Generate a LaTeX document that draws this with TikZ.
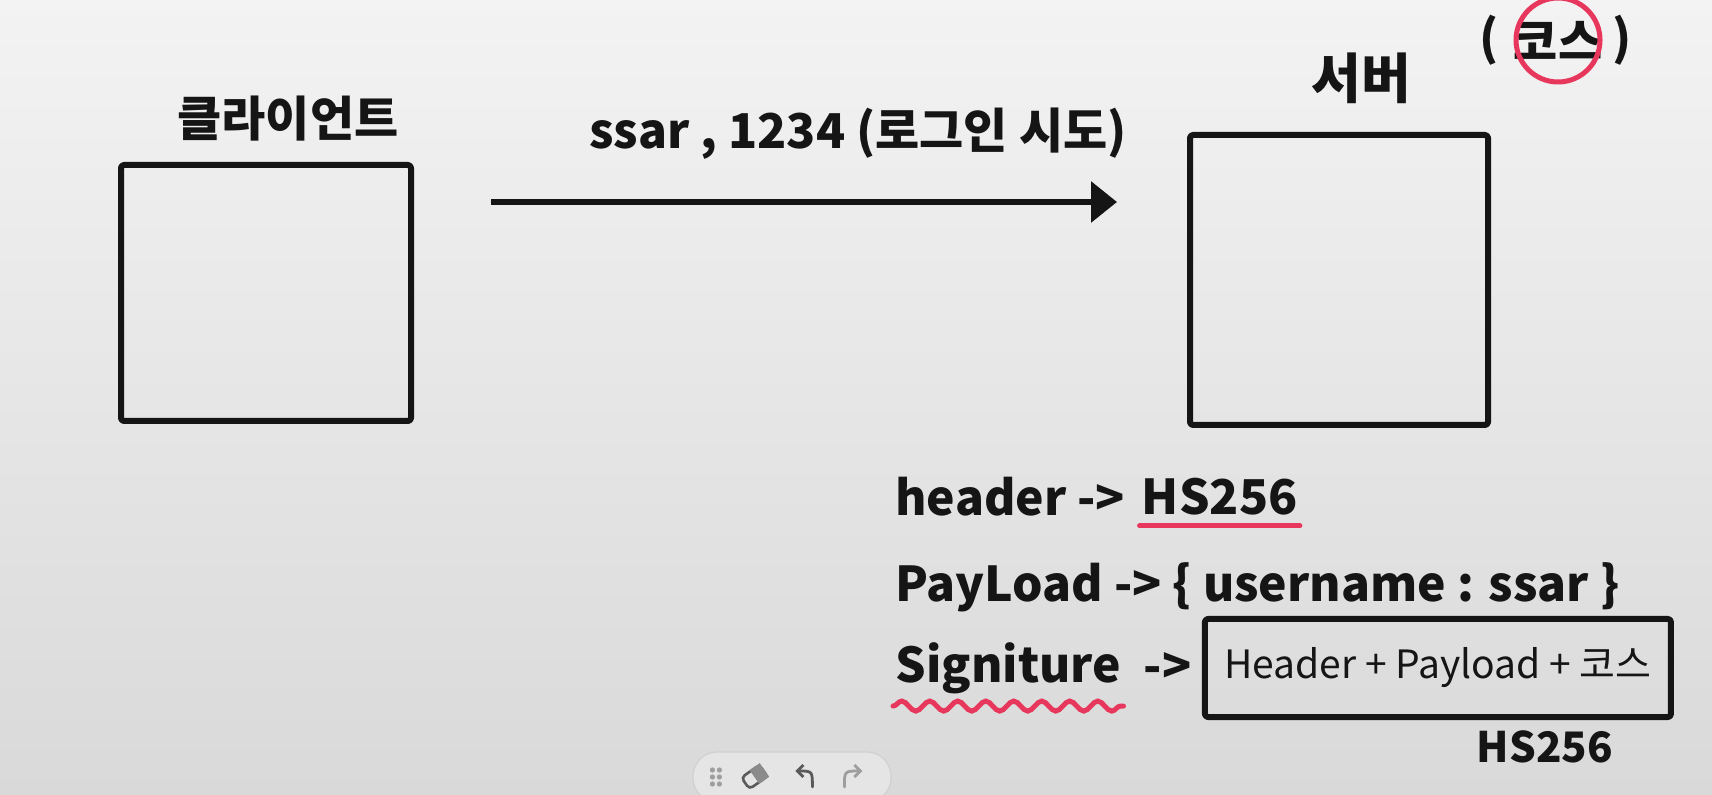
\documentclass[tikz,border=0pt]{standalone}
\usepackage{fontspec}
\usepackage{tikz}
\usetikzlibrary{arrows.meta,positioning,calc,decorations.pathmorphing}
\newfontfamily\krfont{Noto Sans CJK KR}
\definecolor{ink}     {HTML}{151515}
\definecolor{pen}     {HTML}{E8375C}
\definecolor{boardtop}{HTML}{F3F3F3}
\definecolor{boardbot}{HTML}{D9D9D9}
\definecolor{barbg}   {HTML}{E5E5E5}
\definecolor{barline} {HTML}{D0D0D0}
\definecolor{icon}    {HTML}{5A5A5A}
\definecolor{iconoff} {HTML}{9E9E9E}
\tikzset{
  box/.style    ={draw=ink, line width=3pt, line join=round, rounded corners=1.5pt,
                  minimum width=145pt, minimum height=128pt, inner sep=0pt},
  hand/.style   ={font=\krfont\bfseries\fontsize{24}{28}\selectfont, text=ink, inner sep=1pt},
  thin/.style   ={font=\krfont\fontsize{19.5}{23}\selectfont, text=ink},
  arr/.style    ={-{Triangle[length=13pt,width=20pt]}, line width=3pt, draw=ink},
  redpen/.style ={draw=pen, line width=2.5pt, line cap=round},
  tool/.style   ={line width=1.4pt, line cap=round, -{Straight Barb[length=3pt,width=6pt]}},
}
\begin{document}
\begin{tikzpicture}[x=0.5pt,y=-0.5pt]
  % whiteboard
  \shade[top color=boardtop, middle color=boardtop, bottom color=boardbot] (0,0) rectangle (1712,795);
  \useasboundingbox (0,0) rectangle (1712,795);

  % client and server
  \node[box] (client) at (266,293) {};
  \node[box, minimum width=149pt, minimum height=145pt] (server) at (1339,280) {};
  \node[hand, above=9pt of client, xshift=11pt] (clientlabel) {클라이언트};
  \node[hand, above=13pt of server, xshift=11pt, font=\krfont\bfseries\fontsize{27}{31}\selectfont]
    (serverlabel) {서버};

  \node[hand] (cos) at (1558,40) {코스};
  \node[hand, left=5pt of cos] (lp) {(};
  \node[hand, right=3pt of cos] (rp) {)};
  \draw[redpen] (cos) circle (21pt);

  % login request
  \node[hand] (login) at (858,134) {ssar , 1234 (로그인 시도)};
  \draw[arr] ([xshift=38.5pt,yshift=-20pt]client.north east)
    -- ([xshift=-35pt,yshift=-35pt]server.north west);

  % token parts
  \node[hand, anchor=west] (hdr) at (893,497) {header ->};
  \node[hand, right=6pt of hdr] (hs) {HS256};
  \draw[redpen] ([yshift=-4pt]hs.south west) -- ([yshift=-4pt]hs.south east);

  \node[hand, anchor=west] (pay) at (893,587) {PayLoad -> \{ username : ssar \}};

  \node[hand, anchor=west] (sig) at (893,668) {Signiture};
  \draw[redpen, decorate, decoration={snake, amplitude=2.5pt, segment length=14pt}]
    ([yshift=-5pt]sig.south west) -- ([yshift=-5pt]sig.south east);
  \node[hand, right=9pt of sig] (sigarr) {->};
  \node[box, thin, minimum width=233pt, minimum height=49pt, right=4pt of sigarr] (sigbox)
    {Header + Payload + 코스};
  \node[thin, below left=2pt and 27pt of sigbox.south east,
        font=\krfont\bfseries\fontsize{21}{25}\selectfont] (alg) {HS256};

  % toolbar
  \node[draw=barline, fill=barbg, rounded corners=12pt, line width=0.6pt,
        minimum width=99pt, minimum height=25pt] (bar) at (792,777) {};
  \foreach \i in {0,1}
    \foreach \j in {0,1,2}
      \fill[iconoff] ($(bar.west)+(20+7*\i,-7+7*\j)$) circle (1.3pt);
  \node[draw=icon, line width=1.3pt, rounded corners=2pt, minimum width=11pt,
        minimum height=7pt, inner sep=0pt, rotate=35] (eraser) at ($(bar.west)+(62,0)$) {};
  \fill[icon!70] (eraser.north) -- (eraser.north east) -- (eraser.south east) -- (eraser.south) -- cycle;
  \draw[tool, draw=icon] ($(bar.west)+(120,10)$) .. controls ($(bar.west)+(120,-6)$) .. ($(bar.west)+(103,-6)$);
  \draw[tool, draw=iconoff] ($(bar.west)+(152,10)$) .. controls ($(bar.west)+(152,-6)$) .. ($(bar.west)+(170,-6)$);
\end{tikzpicture}
\end{document}
